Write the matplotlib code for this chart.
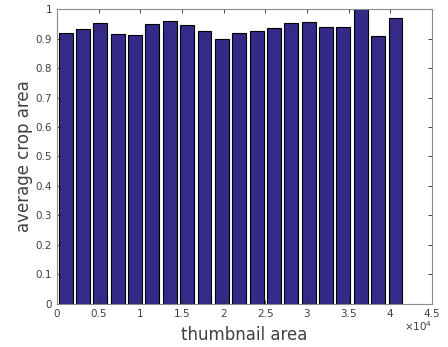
import numpy as np
import matplotlib
matplotlib.use('Agg')
import matplotlib.pyplot as plt

# bar centres (thumbnail area) and average crop area
bin_width = 2084
bin_centres = [1042 + bin_width * i for i in range(20)]
crop_area = [0.918, 0.931, 0.951, 0.916, 0.911, 0.949, 0.960, 0.947, 0.925, 0.898,
             0.918, 0.925, 0.936, 0.951, 0.955, 0.940, 0.940, 1.000, 0.907, 0.968]

x_ticks = [0, 5000, 10000, 15000, 20000, 25000, 30000, 35000, 40000, 45000]
x_labels = ['0', '0.5', '1', '1.5', '2', '2.5', '3', '3.5', '4', '4.5']
y_ticks = [0, 0.1, 0.2, 0.3, 0.4, 0.5, 0.6, 0.7, 0.8, 0.9, 1]
y_labels = ['0', '0.1', '0.2', '0.3', '0.4', '0.5', '0.6', '0.7', '0.8', '0.9', '1']

C_BAR  = '#352a87'
C_AXIS = '#262626'
C_TEXT = '#404040'

fig = plt.figure(figsize=(4.48, 3.47), dpi=100, facecolor='white')
ax = fig.add_axes([0.127, 0.124, 0.837, 0.850])

ax.bar(bin_centres, crop_area, width=bin_width * 0.8,
       color=C_BAR, edgecolor='black', linewidth=0.8)

ax.set_xlim(0, 45000)
ax.set_ylim(0, 1)
ax.set_xticks(x_ticks)
ax.set_xticklabels(x_labels)
ax.set_yticks(y_ticks)
ax.set_yticklabels(y_labels)

ax.tick_params(direction='in', top=True, right=True, length=3, width=0.6,
               colors=C_AXIS, labelcolor=C_TEXT, labelsize=7.5)
for s in ax.spines.values():
    s.set_color('#8a8a8a')
    s.set_linewidth(0.8)

ax.set_xlabel('thumbnail area', fontsize=12, color=C_TEXT, labelpad=5)
ax.set_ylabel('average crop area', fontsize=12, color=C_TEXT, labelpad=2)
ax.text(1.0, -0.05, r'$\times10^4$', transform=ax.transAxes,
        ha='right', va='top', fontsize=7.5, color=C_TEXT)

fig.savefig('out.png', dpi=100)
